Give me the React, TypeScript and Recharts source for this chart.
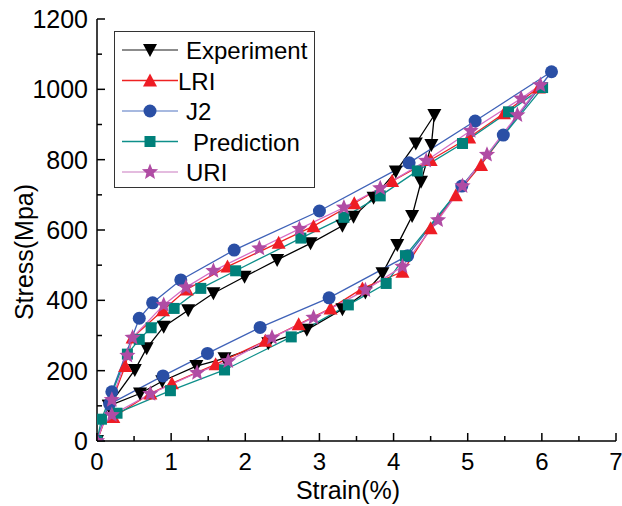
import React from 'react';
import { LineChart, Line, XAxis, YAxis, Legend } from 'recharts';

document.body.style.margin = '0';

type Pt = { x: number; y: number };

// Experiment: loading then unloading
const experiment: Pt[] = [
  { x: 0, y: 0 }, { x: 0.16, y: 100 }, { x: 0.51, y: 202 }, { x: 0.67, y: 264 },
  { x: 0.9, y: 325 }, { x: 1.23, y: 372 }, { x: 1.57, y: 420 }, { x: 1.99, y: 467 },
  { x: 2.43, y: 515 }, { x: 2.88, y: 562 }, { x: 3.31, y: 612 }, { x: 3.46, y: 638 },
  { x: 3.73, y: 692 }, { x: 4.03, y: 766 }, { x: 4.3, y: 846 }, { x: 4.55, y: 927 },
  { x: 4.51, y: 842 }, { x: 4.37, y: 737 }, { x: 4.25, y: 640 }, { x: 4.05, y: 557 },
  { x: 3.85, y: 477 }, { x: 3.62, y: 422 }, { x: 3.31, y: 375 }, { x: 2.83, y: 316 },
  { x: 2.31, y: 278 }, { x: 1.72, y: 235 }, { x: 1.34, y: 213 }, { x: 0.88, y: 170 },
  { x: 0.58, y: 135 }, { x: 0.16, y: 100 },
];

const lri: Pt[] = [
  { x: 0, y: 0 }, { x: 0.38, y: 213 }, { x: 0.48, y: 294 }, { x: 0.89, y: 372 },
  { x: 1.21, y: 431 }, { x: 1.76, y: 496 }, { x: 2.45, y: 564 }, { x: 2.92, y: 611 },
  { x: 3.47, y: 676 }, { x: 3.98, y: 739 }, { x: 4.5, y: 799 }, { x: 5.02, y: 863 },
  { x: 5.49, y: 932 }, { x: 5.96, y: 1005 },
  { x: 5.18, y: 785 }, { x: 4.84, y: 699 }, { x: 4.5, y: 605 }, { x: 4.12, y: 481 },
  { x: 3.58, y: 434 }, { x: 3.15, y: 377 }, { x: 2.72, y: 332 }, { x: 2.27, y: 285 },
  { x: 1.6, y: 218 }, { x: 1.01, y: 164 }, { x: 0.72, y: 135 }, { x: 0.22, y: 68 },
];

const j2: Pt[] = [
  { x: 0, y: 0 }, { x: 0.2, y: 140 }, { x: 0.57, y: 349 }, { x: 0.75, y: 393 },
  { x: 1.13, y: 458 }, { x: 1.85, y: 543 }, { x: 3.0, y: 654 }, { x: 4.21, y: 791 },
  { x: 5.1, y: 910 }, { x: 6.13, y: 1050 },
  { x: 5.48, y: 870 }, { x: 4.92, y: 725 }, { x: 4.19, y: 527 }, { x: 3.13, y: 407 },
  { x: 2.2, y: 323 }, { x: 1.49, y: 249 }, { x: 0.89, y: 185 }, { x: 0.17, y: 105 },
];

const prediction: Pt[] = [
  { x: 0, y: 0 }, { x: 0.06, y: 62 }, { x: 0.41, y: 247 }, { x: 0.57, y: 289 },
  { x: 0.73, y: 322 }, { x: 1.04, y: 377 }, { x: 1.4, y: 434 }, { x: 1.87, y: 484 },
  { x: 2.75, y: 577 }, { x: 3.33, y: 636 }, { x: 3.82, y: 697 }, { x: 4.32, y: 768 },
  { x: 4.93, y: 846 }, { x: 5.55, y: 936 }, { x: 6.01, y: 1005 },
  { x: 4.16, y: 527 }, { x: 3.9, y: 448 }, { x: 3.39, y: 387 }, { x: 2.62, y: 296 },
  { x: 1.72, y: 202 }, { x: 0.99, y: 143 }, { x: 0.27, y: 79 },
];

const uri: Pt[] = [
  { x: 0, y: 0 }, { x: 0.2, y: 117 }, { x: 0.41, y: 243 }, { x: 0.48, y: 294 },
  { x: 0.9, y: 387 }, { x: 1.2, y: 437 }, { x: 1.57, y: 484 }, { x: 2.19, y: 548 },
  { x: 2.73, y: 603 }, { x: 3.33, y: 664 }, { x: 3.82, y: 719 }, { x: 4.44, y: 797 },
  { x: 5.04, y: 882 }, { x: 5.72, y: 974 }, { x: 5.98, y: 1012 },
  { x: 5.67, y: 927 }, { x: 5.26, y: 814 }, { x: 4.93, y: 725 }, { x: 4.6, y: 628 },
  { x: 4.12, y: 496 }, { x: 3.62, y: 429 }, { x: 2.92, y: 351 }, { x: 2.36, y: 294 },
  { x: 1.77, y: 227 }, { x: 1.35, y: 194 }, { x: 0.72, y: 134 }, { x: 0.2, y: 74 },
];

const xTicks = [0, 0.5, 1, 1.5, 2, 2.5, 3, 3.5, 4, 4.5, 5, 5.5, 6, 6.5, 7];
const yTicks = [0, 100, 200, 300, 400, 500, 600, 700, 800, 900, 1000, 1100, 1200];

const FONT = '"Liberation Sans", Arial, sans-serif';

type Shape = 'down' | 'up' | 'circle' | 'square' | 'star';

const Marker = ({ shape, cx, cy, fill }: { shape: Shape; cx: number; cy: number; fill: string }) => {
  if (cx == null || cy == null || isNaN(cx) || isNaN(cy)) return null;
  if (shape === 'down')
    return <polygon points={`${cx - 7},${cy - 6} ${cx + 7},${cy - 6} ${cx},${cy + 7}`} fill={fill} />;
  if (shape === 'up')
    return <polygon points={`${cx - 7},${cy + 6} ${cx + 7},${cy + 6} ${cx},${cy - 7}`} fill={fill} />;
  if (shape === 'circle') return <circle cx={cx} cy={cy} r={6.5} fill={fill} />;
  if (shape === 'square') return <rect x={cx - 5.5} y={cy - 5.5} width={11} height={11} fill={fill} />;
  const pts: string[] = [];
  for (let i = 0; i < 10; i++) {
    const r = i % 2 === 0 ? 8.5 : 3.8;
    const a = -Math.PI / 2 + (i * Math.PI) / 5;
    pts.push(`${cx + r * Math.cos(a)},${cy + r * Math.sin(a)}`);
  }
  return <polygon points={pts.join(' ')} fill={fill} />;
};

const series = [
  { name: 'Experiment', data: experiment, line: '#000000', mark: '#000000', legendLine: '#666666', shape: 'down' as Shape, textX: 72 },
  { name: 'LRI', data: lri, line: '#ee2222', mark: '#ee1c24', legendLine: '#ee2222', shape: 'up' as Shape, textX: 64 },
  { name: 'J2', data: j2, line: '#3f62b8', mark: '#2a4fa5', legendLine: '#8aa2d6', shape: 'circle' as Shape, textX: 72 },
  { name: 'Prediction', data: prediction, line: '#0e8f8a', mark: '#00807a', legendLine: '#0e8f8a', shape: 'square' as Shape, textX: 79 },
  { name: 'URI', data: uri, line: '#d46cc4', mark: '#b04ca4', legendLine: '#dba6d4', shape: 'star' as Shape, textX: 72 },
];

const BottomTick = (props: any) => {
  const { x, y, payload } = props;
  const major = Number.isInteger(payload.value);
  return (
    <g>
      <line x1={x} y1={y} x2={x} y2={y - (major ? 8 : 5)} stroke="#000" strokeWidth={1.5} />
      {major && (
        <text x={x} y={y + 29} textAnchor="middle" fontSize={24} fontFamily={FONT} fill="#000">
          {payload.value}
        </text>
      )}
    </g>
  );
};

const TopTick = (props: any) => {
  const { x, y, payload } = props;
  const major = Number.isInteger(payload.value);
  return <line x1={x} y1={y} x2={x} y2={y + (major ? 8 : 5)} stroke="#000" strokeWidth={1.5} />;
};

const LeftTick = (props: any) => {
  const { x, y, payload } = props;
  const major = payload.value % 200 === 0;
  return (
    <g>
      <line x1={x} y1={y} x2={x + (major ? 8 : 5)} y2={y} stroke="#000" strokeWidth={1.5} />
      {major && (
        <text x={x - 9} y={y + 9} textAnchor="end" fontSize={25} fontFamily={FONT} fill="#000">
          {payload.value}
        </text>
      )}
    </g>
  );
};

const RightTick = (props: any) => {
  const { x, y, payload } = props;
  const major = payload.value % 200 === 0;
  return <line x1={x} y1={y} x2={x - (major ? 8 : 5)} y2={y} stroke="#000" strokeWidth={1.5} />;
};

const LegendBox = () => (
  <svg width={202} height={158} style={{ display: 'block' }}>
    <rect x={0.5} y={0.5} width={200} height={156} fill="#fff" stroke="#333" strokeWidth={1} />
    {series.map((s, i) => {
      const cy = 19 + i * 30.5;
      return (
        <g key={s.name}>
          <line x1={8} y1={cy} x2={64} y2={cy} stroke={s.legendLine} strokeWidth={1.5} />
          <Marker shape={s.shape} cx={36} cy={cy} fill={s.mark} />
          <text x={s.textX} y={cy + 9} fontSize={24} fontFamily={FONT} fill="#000">
            {s.name}
          </text>
        </g>
      );
    })}
  </svg>
);

export default function App() {
  return (
    <LineChart width={622} height={506} margin={{ top: 19, right: 6, bottom: 0, left: 0 }}>
      <XAxis
        xAxisId="b"
        dataKey="x"
        type="number"
        domain={[0, 7]}
        ticks={xTicks}
        allowDataOverflow
        height={65}
        tickLine={false}
        tickSize={0}
        tickMargin={0}
        tick={<BottomTick />}
        axisLine={{ stroke: '#000', strokeWidth: 1.5 }}
        label={() => (
          <text x={348} y={499} textAnchor="middle" fontSize={25} fontFamily={FONT} fill="#000">
            Strain(%)
          </text>
        )}
      />
      <XAxis
        xAxisId="t"
        orientation="top"
        dataKey="x"
        type="number"
        domain={[0, 7]}
        ticks={xTicks}
        allowDataOverflow
        height={0}
        tickLine={false}
        tickSize={0}
        tickMargin={0}
        tick={<TopTick />}
        axisLine={{ stroke: '#000', strokeWidth: 1.5 }}
      />
      <YAxis
        yAxisId="l"
        dataKey="y"
        type="number"
        domain={[0, 1200]}
        ticks={yTicks}
        allowDataOverflow
        width={97}
        tickLine={false}
        tickSize={0}
        tickMargin={0}
        tick={<LeftTick />}
        axisLine={{ stroke: '#000', strokeWidth: 1.5 }}
        label={() => (
          <text
            x={33}
            y={252}
            textAnchor="middle"
            fontSize={25}
            fontFamily={FONT}
            fill="#000"
            transform="rotate(-90 33 252)"
          >
            Stress(Mpa)
          </text>
        )}
      />
      <YAxis
        yAxisId="r"
        orientation="right"
        type="number"
        domain={[0, 1200]}
        ticks={yTicks}
        allowDataOverflow
        width={0}
        tickLine={false}
        tickSize={0}
        tickMargin={0}
        tick={<RightTick />}
        axisLine={{ stroke: '#000', strokeWidth: 1.5 }}
      />
      <Legend
        layout="vertical"
        align="center"
        verticalAlign="middle"
        content={() => <LegendBox />}
        wrapperStyle={{ position: 'absolute', left: 114, top: 31, width: 202, height: 158 }}
      />
      {series.map((s) => (
        <Line
          key={s.name}
          name={s.name}
          xAxisId="b"
          yAxisId="l"
          data={s.data}
          dataKey="y"
          type="linear"
          stroke={s.line}
          strokeWidth={1.3}
          isAnimationActive={false}
          dot={(p: any) => <Marker key={`${s.name}-${p.index}`} shape={s.shape} cx={p.cx} cy={p.cy} fill={s.mark} />}
          activeDot={false}
        />
      ))}
    </LineChart>
  );
}
